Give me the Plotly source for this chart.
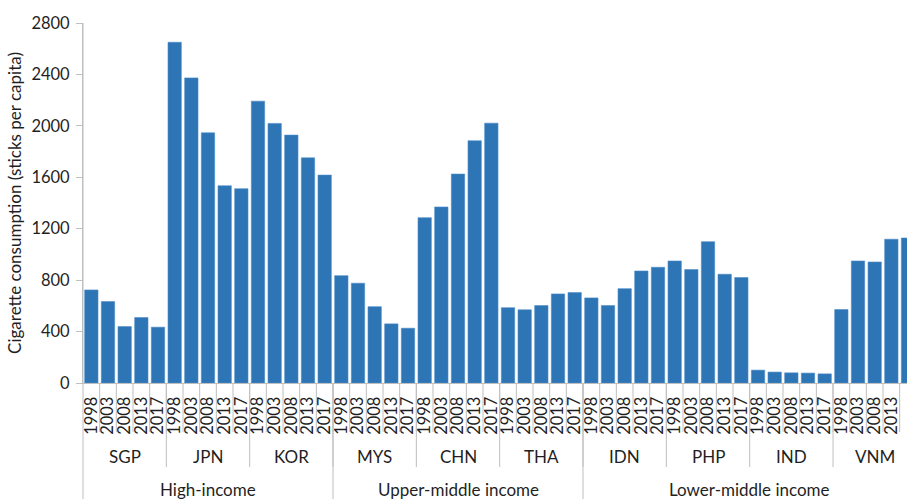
import plotly.graph_objects as go

years = ["1998", "2003", "2008", "2013", "2017"]
countries = ["SGP", "JPN", "KOR", "MYS", "CHN", "THA", "IDN", "PHP", "IND", "VNM"]
income_groups = ["High-income", "Upper-middle income", "Lower-middle income"]
countries_per_group = [3, 3, 4]

sgp = [724, 633, 439, 509, 434]
jpn = [2650, 2373, 1946, 1534, 1511]
kor = [2192, 2019, 1928, 1751, 1617]
mys = [835, 776, 594, 460, 426]
chn = [1286, 1369, 1625, 1884, 2021]
tha = [586, 569, 602, 693, 703]
idn = [662, 602, 734, 871, 900]
php = [949, 882, 1099, 846, 820]
ind = [100, 85, 79, 77, 71]
vnm = [571, 949, 941, 1118, 1128]

series = [sgp, jpn, kor, mys, chn, tha, idn, php, ind, vnm]

x_cats, y_vals, tick_text = [], [], []
for c, vals in zip(countries, series):
    for yr, v in zip(years, vals):
        x_cats.append(f"{c} {yr}")
        y_vals.append(v)
        tick_text.append(yr)

n_years = len(years)
n_total = len(x_cats)

FONT = "Lato, Carlito, 'Open Sans', sans-serif"
GRAY = "#BFBFBF"
TXT = "#1F1F1F"

fig = go.Figure(go.Bar(
    x=x_cats, y=y_vals,
    marker=dict(color="#2E75B6", line=dict(color="#4A8BC8", width=0.6)),
))

W, H = 907, 499
l_m, t_m = 83, 23
plot_h = 360
b_m = H - t_m - plot_h
plot_w = W - l_m
slot_px = 16.667

def py(px_below_axis):
    return -px_below_axis / plot_h

shapes = []
for i in range(n_total):
    shapes.append(dict(type="line", xref="x", yref="paper", x0=i + 0.5, x1=i + 0.5,
                       y0=0, y1=py(49), line=dict(color=GRAY, width=1)))
for k in range(1, len(countries)):
    xb = k * n_years - 0.5
    shapes.append(dict(type="line", xref="x", yref="paper", x0=xb, x1=xb,
                       y0=0, y1=py(84), line=dict(color=GRAY, width=1)))
acc = 0
for cnt in countries_per_group[:-1]:
    acc += cnt
    xb = acc * n_years - 0.5
    shapes.append(dict(type="line", xref="x", yref="paper", x0=xb, x1=xb,
                       y0=0, y1=py(130), line=dict(color=GRAY, width=1)))
shapes.append(dict(type="line", xref="paper", yref="paper", x0=0, x1=0,
                   y0=1, y1=py(130), line=dict(color=GRAY, width=1)))

annotations = []
for k, c in enumerate(countries):
    start = k * n_years
    end = start + n_years - 1
    annotations.append(dict(x=(start + end) / 2, y=py(73), xref="x", yref="paper",
                            text=c, showarrow=False, yanchor="middle",
                            font=dict(family=FONT, size=17, color=TXT)))
acc = 0
for g, cnt in zip(income_groups, countries_per_group):
    start = acc * n_years
    end = (acc + cnt) * n_years - 1
    acc += cnt
    annotations.append(dict(x=(start + end) / 2, y=py(106), xref="x", yref="paper",
                            text=g, showarrow=False, yanchor="middle",
                            font=dict(family=FONT, size=17, color=TXT)))

fig.update_layout(
    width=W, height=H,
    margin=dict(l=l_m, r=0, t=t_m, b=b_m, autoexpand=False),
    plot_bgcolor="white", paper_bgcolor="white",
    bargap=0.2,
    showlegend=False,
    shapes=shapes,
    annotations=annotations,
    font=dict(family=FONT, color=TXT),
)
fig.update_xaxes(
    type="category",
    range=[-0.5, -0.5 + plot_w / slot_px],
    tickvals=x_cats, ticktext=tick_text,
    tickangle=-90,
    tickfont=dict(family=FONT, size=16.5, color=TXT),
    ticks="", showline=True, linecolor=GRAY, linewidth=1,
    showgrid=False, zeroline=False, automargin=False,
    ticklabelstandoff=6,
)
fig.update_yaxes(
    range=[0, 2800], tickvals=[0, 400, 800, 1200, 1600, 2000, 2400, 2800],
    tickfont=dict(family=FONT, size=16.5, color=TXT),
    ticks="outside", ticklen=6, tickcolor=GRAY,
    showline=True, linecolor=GRAY, linewidth=1,
    showgrid=False, zeroline=False, automargin=False,
    ticklabelstandoff=3,
    title=dict(text="Cigarette consumption (sticks per capita)",
               font=dict(family=FONT, size=17, color=TXT), standoff=5),
)

fig.write_html(
    "out.html",
    config={"displayModeBar": False},
    post_script="document.body.style.margin='0';document.body.style.overflow='hidden';",
)
